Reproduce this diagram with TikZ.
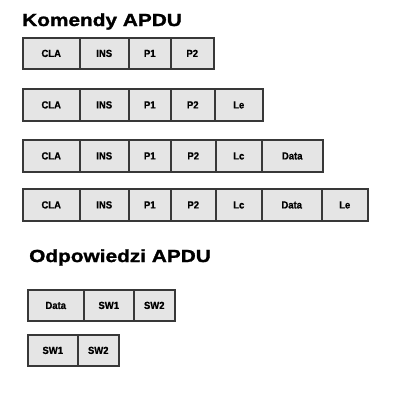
\documentclass[tikz,border=0pt]{standalone}
\usepackage{fontspec}
\setmainfont{Liberation Sans}
\newfontfamily\headfont[FakeStretch=1.19,FakeBold=1.5]{Liberation Sans Bold}
\newfontfamily\cellfont[FakeStretch=0.92,FakeBold=0.8]{Liberation Sans Bold}
\begin{document}
\begin{tikzpicture}[x=1pt,y=-1pt,
  cell/.style={draw=black!78, line width=1.5pt, fill=black!10, inner sep=0pt,
    anchor=north west, font=\cellfont\fontsize{10.3}{12}\selectfont,
    text height=7.4pt, text depth=0pt},
  heading/.style={anchor=base west, inner sep=0pt, font=\headfont\fontsize{17.5}{20}\selectfont}]
\useasboundingbox (0,0) rectangle (418,410);
\fill[white] (0,0) rectangle (418,410);
\node[heading] (h1) at (22,26) {Komendy APDU};
\node[heading] (h2) at (29,262) {Odpowiedzi APDU};
% row 1
\node[cell, minimum width=57, minimum height=31] (a1) at (22,37) {CLA};
\node[cell, minimum width=49, minimum height=31] (a2) at (79,37) {INS};
\node[cell, minimum width=42, minimum height=31] (a3) at (128,37) {P1};
\node[cell, minimum width=43, minimum height=31] (a4) at (170,37) {P2};
% row 2
\node[cell, minimum width=57, minimum height=32] (b1) at (22,88) {CLA};
\node[cell, minimum width=49, minimum height=32] (b2) at (79,88) {INS};
\node[cell, minimum width=42, minimum height=32] (b3) at (128,88) {P1};
\node[cell, minimum width=44, minimum height=32] (b4) at (170,88) {P2};
\node[cell, minimum width=48, minimum height=32] (b5) at (214,88) {Le};
% row 3
\node[cell, minimum width=57, minimum height=32] (c1) at (22,139) {CLA};
\node[cell, minimum width=49, minimum height=32] (c2) at (79,139) {INS};
\node[cell, minimum width=42, minimum height=32] (c3) at (128,139) {P1};
\node[cell, minimum width=45, minimum height=32] (c4) at (170,139) {P2};
\node[cell, minimum width=46, minimum height=32] (c5) at (215,139) {Lc};
\node[cell, minimum width=61, minimum height=32] (c6) at (261,139) {Data};
% row 4
\node[cell, minimum width=57, minimum height=32] (d1) at (22,188) {CLA};
\node[cell, minimum width=49, minimum height=32] (d2) at (79,188) {INS};
\node[cell, minimum width=42, minimum height=32] (d3) at (128,188) {P1};
\node[cell, minimum width=45, minimum height=32] (d4) at (170,188) {P2};
\node[cell, minimum width=46, minimum height=32] (d5) at (215,188) {Lc};
\node[cell, minimum width=60, minimum height=32] (d6) at (261,188) {Data};
\node[cell, minimum width=46, minimum height=32] (d7) at (321,188) {Le};
% responses
\node[cell, minimum width=56, minimum height=31] (e1) at (27,289) {Data};
\node[cell, minimum width=50, minimum height=31] (e2) at (83,289) {SW1};
\node[cell, minimum width=41, minimum height=31] (e3) at (133,289) {SW2};
\node[cell, minimum width=50, minimum height=31] (f1) at (27,334) {SW1};
\node[cell, minimum width=41, minimum height=31] (f2) at (77,334) {SW2};
\end{tikzpicture}
\end{document}
